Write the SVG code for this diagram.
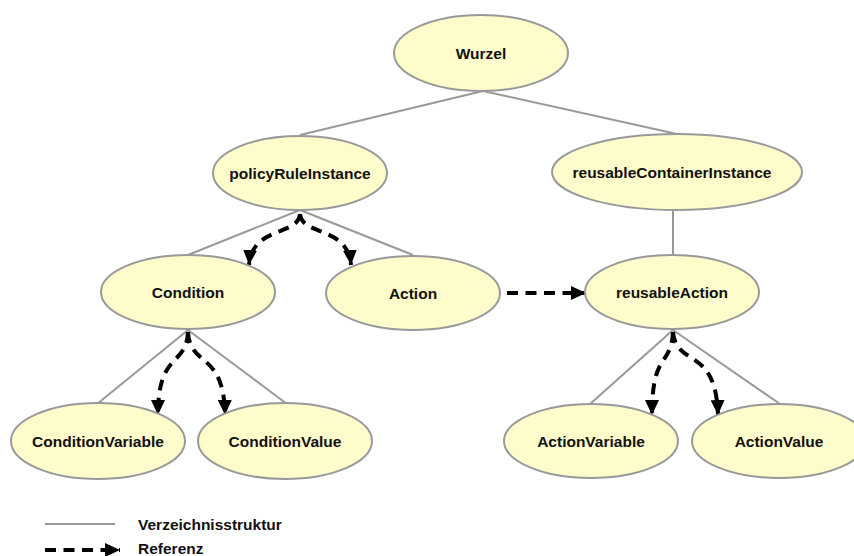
<svg xmlns="http://www.w3.org/2000/svg" width="854" height="556" viewBox="0 0 854 556">
  <style>
    .node ellipse { fill: #fffccc; stroke: #999999; stroke-width: 2; }
    .node text { font-family: "Liberation Sans", Arial, sans-serif; font-weight: bold; font-size: 15.5px; fill: #111111; text-anchor: middle; }
    .tree { stroke: #999999; stroke-width: 2; fill: none; }
    .ref { stroke: #000000; stroke-width: 4; stroke-dasharray: 11 7.5; fill: none; marker-end: url(#arrow); }
    .legend { font-family: "Liberation Sans", Arial, sans-serif; font-weight: bold; font-size: 15.5px; fill: #111111; }
  </style>
  <defs>
    <marker id="arrow" markerUnits="userSpaceOnUse" markerWidth="16" markerHeight="14" refX="15" refY="7" orient="auto">
      <path d="M0,0 L15,7 L0,14 Z" fill="#000000"/>
    </marker>
  </defs>
  <rect width="854" height="556" fill="#ffffff"/>

  <!-- hierarchy lines and reference arrows -->
  <g id="connectors">
    <path class="tree" d="M483,91 L300,135"/>
    <path class="tree" d="M483,91 L677,134"/>
    <path class="tree" d="M300,210 L188,255"/>
    <path class="tree" d="M300,210 L413,255"/>
    <path class="tree" d="M673,210 L673,255"/>
    <path class="tree" d="M188,330 L97,404"/>
    <path class="tree" d="M188,330 L287,404"/>
    <path class="tree" d="M673,330 L590,404"/>
    <path class="tree" d="M673,330 L780,404"/>

    <path class="ref" d="M300,214 C298,236 252,226 249,265"/>
    <path class="ref" d="M300,214 C302,236 348,226 351,265"/>
    <path class="ref" d="M188,332 C186,368 158,350 158,415"/>
    <path class="ref" d="M188,332 C190,368 224,350 225,415"/>
    <path class="ref" d="M673,332 C671,368 652,350 652,415"/>
    <path class="ref" d="M673,332 C676,368 716,345 718,415"/>
    <path class="ref" d="M507,293 L586,293"/>
  </g>

  <g id="wurzel" class="node">
    <ellipse cx="481" cy="53" rx="87" ry="38"/>
    <text x="481" y="59">Wurzel</text>
  </g>
  <g id="policyRuleInstance" class="node">
    <ellipse cx="300" cy="173" rx="87" ry="37"/>
    <text x="300" y="179">policyRuleInstance</text>
  </g>
  <g id="reusableContainerInstance" class="node">
    <ellipse cx="677" cy="172" rx="125" ry="38"/>
    <text x="672" y="178">reusableContainerInstance</text>
  </g>
  <g id="condition" class="node">
    <ellipse cx="188" cy="292" rx="87" ry="37"/>
    <text x="188" y="298">Condition</text>
  </g>
  <g id="action" class="node">
    <ellipse cx="413" cy="293" rx="87" ry="37"/>
    <text x="413" y="299">Action</text>
  </g>
  <g id="reusableAction" class="node">
    <ellipse cx="672" cy="292" rx="87" ry="37"/>
    <text x="672" y="298">reusableAction</text>
  </g>
  <g id="conditionVariable" class="node">
    <ellipse cx="98" cy="441" rx="87" ry="38"/>
    <text x="98" y="447">ConditionVariable</text>
  </g>
  <g id="conditionValue" class="node">
    <ellipse cx="285" cy="441" rx="87" ry="38"/>
    <text x="285" y="447">ConditionValue</text>
  </g>
  <g id="actionVariable" class="node">
    <ellipse cx="591" cy="441" rx="87" ry="37"/>
    <text x="591" y="447">ActionVariable</text>
  </g>
  <g id="actionValue" class="node">
    <ellipse cx="779" cy="441" rx="87" ry="37"/>
    <text x="779" y="447">ActionValue</text>
  </g>

  <!-- legend -->
  <g id="legend">
    <path class="tree" d="M45,524 L115,524"/>
    <text class="legend" x="138" y="530">Verzeichnisstruktur</text>
    <path class="ref" d="M45,550 L120,550"/>
    <text class="legend" x="138" y="554">Referenz</text>
  </g>
</svg>
